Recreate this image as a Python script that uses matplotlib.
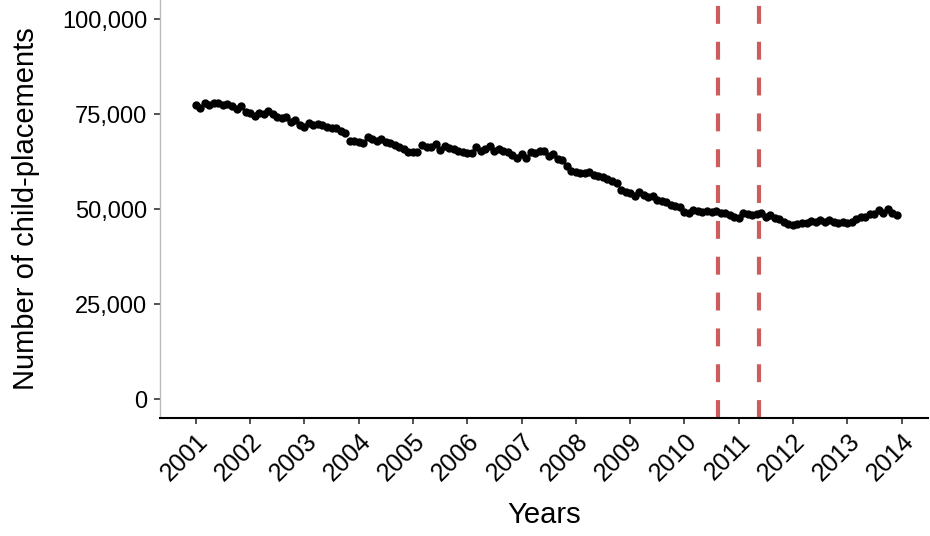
import numpy as np
import matplotlib
matplotlib.use('Agg')
import matplotlib.pyplot as plt

# monthly counts, Jan 2001 - Dec 2013
placements_2001 = [77400, 76600, 77900, 77500, 78000, 77800, 77300, 77700, 77100, 76200, 77000, 75600]
placements_2002 = [75200, 74600, 75400, 75000, 75700, 74900, 74300, 73900, 74100, 73000, 73500, 72100]
placements_2003 = [71700, 72600, 72200, 72300, 72000, 71700, 71400, 71200, 70500, 69900, 67900, 67800]
placements_2004 = [67700, 67400, 68900, 68400, 67800, 68400, 67700, 67300, 66900, 66400, 65800, 65000]
placements_2005 = [64900, 65100, 66800, 66300, 66200, 67000, 65600, 66600, 66000, 65700, 65300, 65000]
placements_2006 = [64800, 64700, 66300, 65400, 65700, 66500, 65400, 65900, 65200, 65000, 64300, 63500]
placements_2007 = [64400, 63500, 65100, 64800, 65300, 65400, 64000, 64600, 63100, 62900, 61300, 59900]
placements_2008 = [59700, 59500, 59400, 59700, 59000, 58600, 58300, 57800, 57400, 56900, 55100, 54500]
placements_2009 = [54100, 53500, 54500, 53700, 53200, 53300, 52400, 52000, 51800, 51100, 50900, 50500]
placements_2010 = [49300, 48900, 49700, 49400, 49200, 49600, 49300, 49400, 49000, 48900, 48500, 48000]
placements_2011 = [47600, 49000, 48600, 48400, 48800, 49000, 48000, 48400, 47600, 47400, 46700, 46000]
placements_2012 = [45800, 46000, 46400, 46300, 46900, 46600, 47100, 46500, 47100, 46700, 46400, 46500]
placements_2013 = [46200, 46500, 47500, 47800, 47900, 48700, 48800, 49700, 48900, 49900, 49000, 48400]

years = list(range(2001, 2014))
months = list(range(12))
year_ticks = list(range(2001, 2015))
y_ticks = [0, 25000, 50000, 75000, 100000]
event_lines = [2010.62, 2011.37]

values = (placements_2001 + placements_2002 + placements_2003 + placements_2004 +
          placements_2005 + placements_2006 + placements_2007 + placements_2008 +
          placements_2009 + placements_2010 + placements_2011 + placements_2012 +
          placements_2013)
dates = [y + m / 12 for y in years for m in months]

plt.rcParams['font.family'] = ['Liberation Sans', 'DejaVu Sans']

fig = plt.figure(figsize=(9.3, 5.36), dpi=100)
ax = fig.add_axes([0.172, 0.22, 0.826, 0.78])

ymin, ymax = -5000, 105000
for xv in event_lines:
    # drawn bottom-up so the dash pattern starts at the axis line
    ax.plot([xv, xv], [ymin, ymax], color='#cd5c5c', lw=3,
            dashes=(4.3, 4.3), dash_capstyle='butt', zorder=1)

ax.plot(dates, values, 'o', color='black', ms=5, zorder=2)

ax.set_xlim(2000.34, 2014.49)
ax.set_ylim(ymin, ymax)
ax.set_xticks(year_ticks)
ax.set_xticklabels([str(y) for y in year_ticks], rotation=45, ha='right',
                   va='top', rotation_mode='anchor', fontsize=18)
ax.set_yticks(y_ticks)
ax.set_yticklabels([f'{v:,}' for v in y_ticks], fontsize=17)

ax.spines['top'].set_visible(False)
ax.spines['right'].set_visible(False)
ax.spines['left'].set_color('#bbbbbb')
ax.spines['left'].set_linewidth(1.0)
ax.spines['bottom'].set_linewidth(1.5)
ax.tick_params(axis='both', length=4, width=1.2, color='#333333', pad=5)
ax.tick_params(axis='x', pad=4)

ax.set_xlabel('Years', fontsize=21, labelpad=11)
ax.set_ylabel('Number of child-placements', fontsize=21, labelpad=16)

fig.savefig('out.png', dpi=100)
